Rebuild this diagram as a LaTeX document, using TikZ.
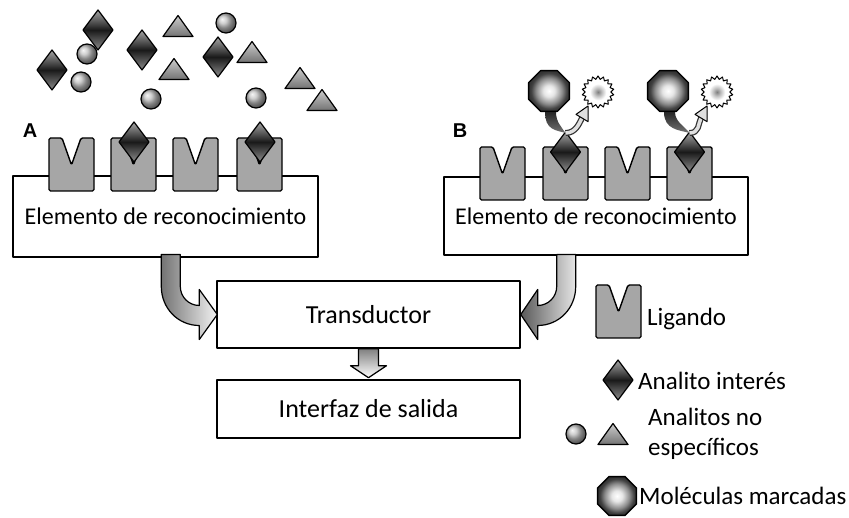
\documentclass[tikz,border=0pt]{standalone}
\usepackage{fontspec}
\setmainfont{Carlito}
\newfontfamily\letrafont{Liberation Sans}
\usetikzlibrary{positioning,shapes.geometric,calc}

\pgfdeclareradialshading{octabrillo}{\pgfpoint{0bp}{0bp}}{color(0bp)=(white); color(7bp)=(white!90!black); color(16bp)=(black!45); color(22bp)=(black!75); color(25bp)=(black!80); color(50bp)=(black!80)}
\pgfdeclareradialshading{estallido}{\pgfpoint{0bp}{0bp}}{color(0bp)=(black!50); color(6bp)=(black!25); color(13bp)=(white); color(50bp)=(white)}

\tikzset{
  caja/.style={draw, line width=1.4pt, fill=white, inner sep=0pt, font=\fontsize{24}{28}\selectfont},
  flecha/.style={draw, line width=1.2pt, line join=round},
  ligando/.pic={\filldraw[fill=black!35, line width=1.4pt, rounded corners=1.5pt] (0,0) -- (13,0) -- (22.5,27) -- (32,0) -- (45,0) -- (45,53) -- (0,53) -- cycle;},
  analito/.pic={\shadedraw[top color=black!35, bottom color=black!45, middle color=black!90, line width=1.2pt, line join=round] (0,-20) -- (15,0) -- (0,20) -- (-15,0) -- cycle;},
  triang/.pic={\shadedraw[top color=black!20, bottom color=black!55, line width=1.2pt, line join=round] (-15,10.5) -- (15,10.5) -- (0,-10.5) -- cycle;},
  bola/.pic={\shadedraw[ball color=black!25, line width=1.2pt] (0,0) circle (10);},
  marcada/.style={regular polygon, regular polygon sides=8, minimum size=44pt, inner sep=0pt, draw, line width=1.4pt, shading=octabrillo},
  senal/.style={star, star points=18, star point ratio=1.25, minimum size=32pt, inner sep=0pt, draw, line width=1pt, shading=estallido},
  leyenda/.style={anchor=west, inner sep=0pt, font=\fontsize{25}{30}\selectfont},
  letra/.style={font=\letrafont\bfseries\fontsize{20}{24}\selectfont}
}

\begin{document}
\begin{tikzpicture}[x=1pt, y=-1pt, line join=round]
\useasboundingbox (0,0) rectangle (849,518);

% cajas
\node[caja, minimum width=305pt, minimum height=81pt] (elemA) at (165.5,216.5) {Elemento de reconocimiento};
\node[caja, minimum width=304pt, minimum height=78pt] (elemB) at (596,216) {Elemento de reconocimiento};
\node[caja, minimum width=303pt, minimum height=67pt, font=\fontsize{26}{30}\selectfont] (trans) at (368.5,314.5) {Transductor};
\node[caja, minimum width=303pt, minimum height=58pt, font=\fontsize{26}{30}\selectfont] (salida) at (368.5,409) {Interfaz de salida};

\node[letra] (etA) at (30,131) {A};
\node[letra] (etB) at (460,131) {B};

% ligandos
\foreach \lx in {49,111,173,237} \pic at (\lx,138) {ligando};
\foreach \lx in {480,543,605,667} \pic at (\lx,147) {ligando};

% analitos libres
\foreach \p in {(98,30),(52,70),(142,50),(218,57)} \pic at \p {analito};
\foreach \p in {(87,54),(81,82),(226,23),(151,99),(256,98)} \pic at \p {bola};
\foreach \p in {(178,26),(174,69),(252,52),(300,78),(322,100)} \pic at \p {triang};

% analitos unidos
\pic at (134,142) {analito};
\pic at (260,142) {analito};
\foreach \i/\dx in {1/565.5,2/689.5} {
  \pic at (\dx,152) {analito};
  \coordinate (uB\i) at (\dx,133);
}

% moleculas marcadas
\node[marcada] (mB1) at (549,91) {};
\node[marcada] (mB2) at (668,91) {};
\node[senal] (sB1) at (598,92) {};
\node[senal] (sB2) at (717,92) {};
\foreach \i in {1,2} {
  \shade[top color=black!85, bottom color=black!55] ([xshift=-4pt]mB\i.south) .. controls +(0,18) and +(-10,-3) .. (uB\i) .. controls +(-4,-6) and +(0,10) .. ([xshift=7pt]mB\i.south) -- cycle;
  \coordinate (bB\i) at ($(sB\i)+(-16,26)$);
  \coordinate (tB\i) at ($(sB\i)+(-10,14)$);
  \draw[line width=6pt, black!80] (uB\i) .. controls +(10,0) and +(-3,6) .. (bB\i);
  \draw[line width=3.5pt, black!12] (uB\i) .. controls +(10,0) and +(-3,6) .. (bB\i);
  \filldraw[fill=black!12, line width=1pt] ($(bB\i)+(-6,-3.6)$) -- (tB\i) -- ($(bB\i)+(6,3.6)$) -- cycle;
}

% flechas
\begin{scope}[shift={(trans.west)}]
  \shadedraw[flecha, left color=black!55, right color=black!5] (-55,-60) -- (-55,-28) .. controls (-55,-6.5) and (-38.5,11) .. (-17,11) -- (-17,25) -- (1,0) -- (-17,-25) -- (-17,-9) .. controls (-27.5,-9) and (-36,-17.5) .. (-36,-28) -- (-36,-60) -- cycle;
\end{scope}
\begin{scope}[shift={(trans.east)}]
  \shadedraw[flecha, left color=black!65, right color=black!10] (55,-60) -- (55,-28) .. controls (55,-6.5) and (38.5,11) .. (17,11) -- (17,25) -- (0,0) -- (17,-25) -- (17,-9) .. controls (27.5,-9) and (36,-17.5) .. (36,-28) -- (36,-60) -- cycle;
\end{scope}
\begin{scope}[shift={(trans.south)}]
  \shadedraw[flecha, top color=black!50, bottom color=white] (-10,0) -- (-10,17) -- (-18,17) -- (0,29) -- (18,17) -- (10,17) -- (10,0) -- cycle;
\end{scope}

% leyenda
\pic at (596,285) {ligando};
\node[leyenda] (tLig) at (647,319) {Ligando};
\pic at (618,380) {analito};
\node[leyenda] (tAna) at (638,381) {Analito interés};
\pic at (576,434) {bola};
\pic at (613,434) {triang};
\node[leyenda, align=left] (tNoe) at (648,434) {Analitos no\\específicos};
\node[marcada, minimum size=42pt] (mLey) at (617,496) {};
\node[leyenda] (tMol) at (639,496) {Moléculas marcadas};
\end{tikzpicture}
\end{document}
